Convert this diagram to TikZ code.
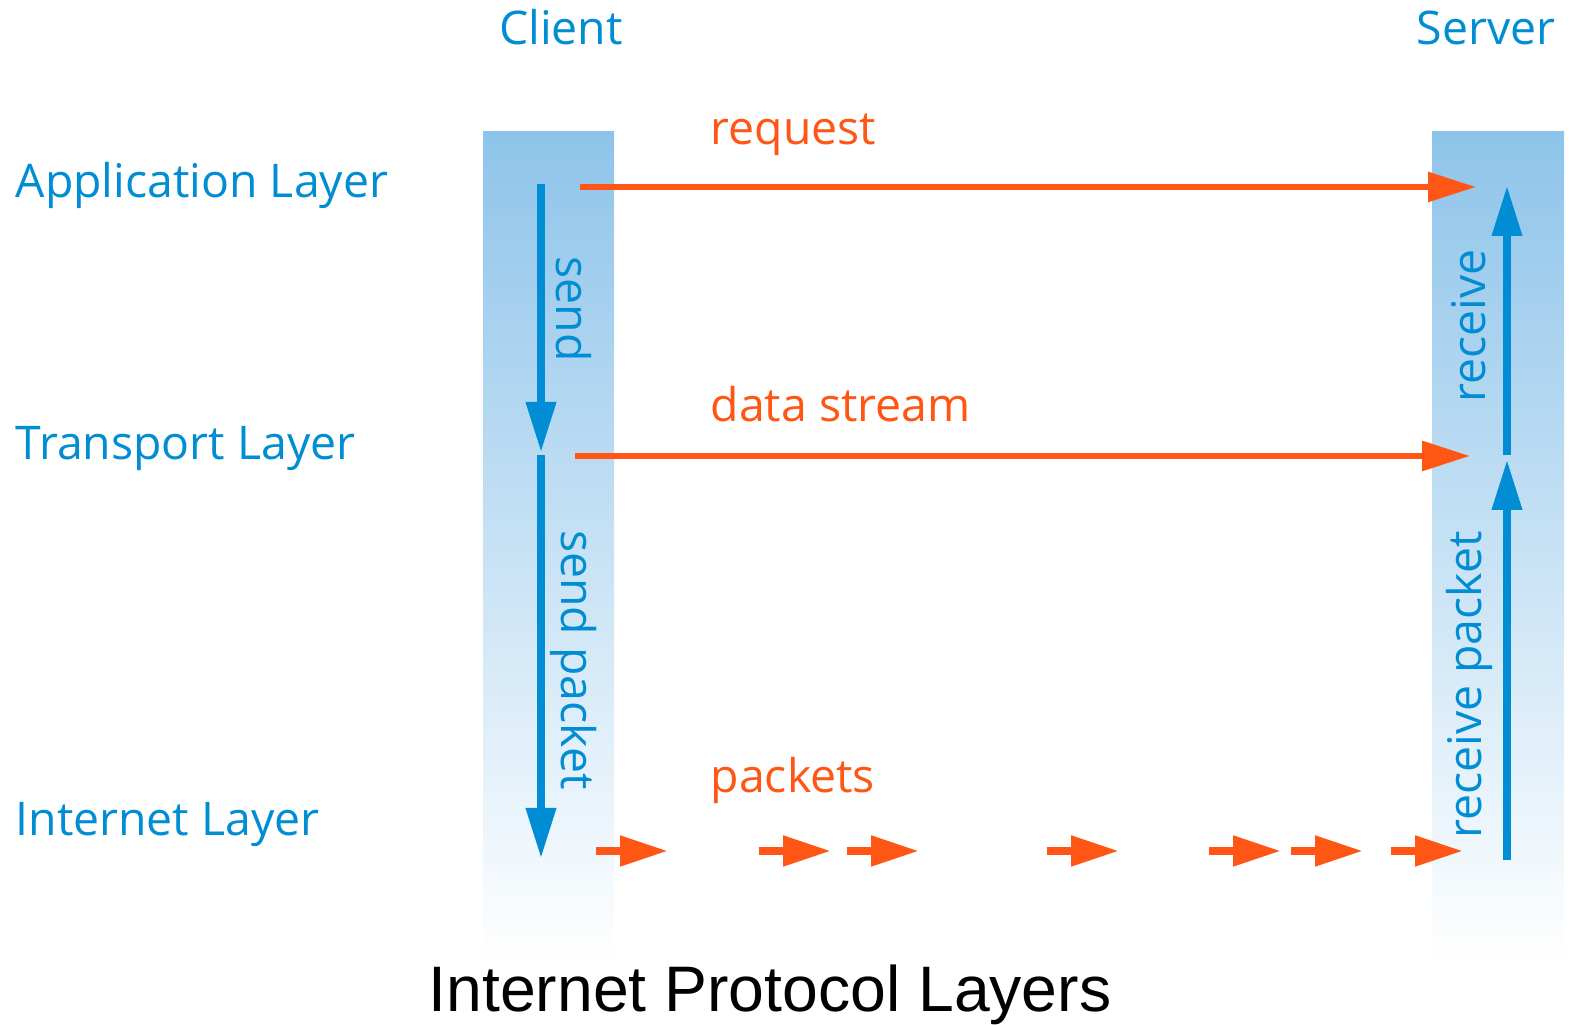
\documentclass[tikz,border=0pt]{standalone}
\usepackage{fontspec}
\newfontfamily\labelfont{Open Sans}
\newfontfamily\titlefont{Liberation Sans}
\usepackage{xcolor}
\definecolor{layerblue}{RGB}{0,141,211}
\definecolor{colblue}{RGB}{142,196,234}
\definecolor{msgorange}{RGB}{255,86,22}
\usepackage{tikz}
\usetikzlibrary{
  arrows.meta,
  positioning,
  calc
}

\begin{document}
\begin{tikzpicture}[
  column/.style={top color=colblue, bottom color=white, draw=none},
  lbl/.style={anchor=base west, inner sep=0pt, text=layerblue, font=\labelfont\fontsize{13.2}{15}\selectfont},
  role/.style={anchor=base, inner sep=0pt, text=layerblue, font=\labelfont\fontsize{13.2}{15}\selectfont},
  msg/.style={anchor=base west, inner sep=0pt, text=msgorange, font=\labelfont\fontsize{13.2}{15}\selectfont},
  flow/.style={inner sep=0pt, text=layerblue, font=\labelfont\fontsize{13.2}{15}\selectfont},
  arr/.style={-{Triangle[length=4.8mm, width=2.9mm]}, line width=1.7pt, msgorange},
  pkt/.style={-{Triangle[length=4.8mm, width=2.9mm]}, line width=2.3pt, msgorange},
  stack/.style={-{Triangle[length=5mm, width=2.9mm]}, line width=2pt, layerblue}
]
  \useasboundingbox (0,0) rectangle (15.69,10.25);

  % client and server columns
  \shade[column] (4.83,8.93) rectangle (6.14,0.62);
  \shade[column] (14.32,8.93) rectangle (15.64,0.62);

  \node[role] (client) at (5.61,9.80) {Client};
  \node[role] (server) at (14.86,9.80) {Server};

  \node[lbl] (app) at (0.15,8.27) {Application Layer};
  \node[lbl] (trans) at (0.15,5.65) {Transport Layer};
  \node[lbl] (inet) at (0.15,1.89) {Internet Layer};

  \node[msg] (request) at (7.10,8.80) {request};
  \node[msg] (stream) at (7.10,6.03) {data stream};
  \node[msg] (packets) at (7.10,2.32) {packets};

  \node[flow, rotate=-90] (send) at (5.74,7.16) {send};
  \node[flow, rotate=-90] (sendpkt) at (5.74,3.65) {send packet};
  \node[flow, rotate=90] (recv) at (14.69,6.99) {receive};
  \node[flow, rotate=90] (recvpkt) at (14.69,3.40) {receive packet};

  % end points of the arrows
  \coordinate (cA) at (5.41,8.41);
  \coordinate (cT) at (5.41,5.73);
  \coordinate (cT2) at (5.41,5.70);
  \coordinate (cI) at (5.41,1.67);
  \coordinate (sI) at (15.07,1.65);
  \coordinate (sT) at (15.07,5.65);
  \coordinate (sT2) at (15.07,5.70);
  \coordinate (sA) at (15.07,8.39);
  \coordinate (reqL) at (5.80,8.38);
  \coordinate (reqR) at (14.76,8.38);
  \coordinate (dsL) at (5.75,5.69);
  \coordinate (dsR) at (14.70,5.69);

  \draw[stack] (cA) -- (cT);
  \draw[stack] (cT2) -- (cI);
  \draw[stack] (sI) -- (sT);
  \draw[stack] (sT2) -- (sA);

  \draw[arr] (reqL) -- (reqR);
  \draw[arr] (dsL) -- (dsR);

  \foreach \x [count=\i] in {5.96,7.59,8.47,10.47,12.09,12.91,13.91} {
    \coordinate (p\i) at (\x,1.74);
    \coordinate (q\i) at (\x+0.72,1.74);
    \draw[pkt] (p\i) -- (q\i);
  }

  \node[anchor=base, inner sep=0pt, font=\titlefont\fontsize{18.3}{20}\selectfont] (title) at (7.70,0.13) {Internet Protocol Layers};
\end{tikzpicture}
\end{document}
